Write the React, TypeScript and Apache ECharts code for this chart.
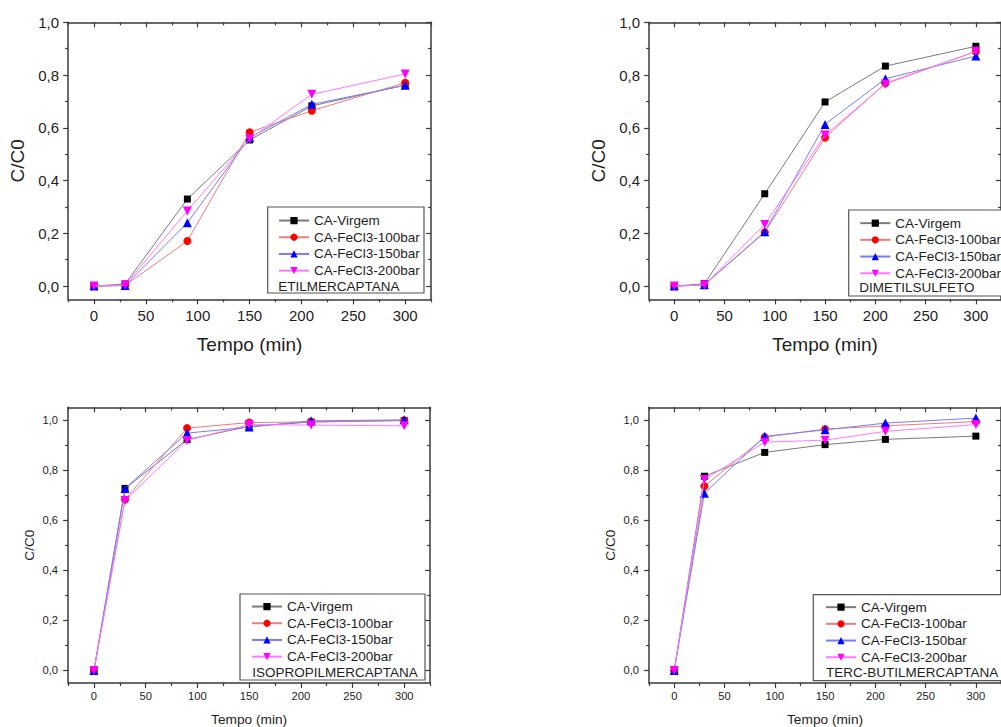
import React, { useEffect, useRef } from 'react';
import * as echarts from 'echarts';

// ---- data ----
const TIME = [0, 30, 90, 150, 210, 300];
const SERIES_NAMES = ['CA-Virgem', 'CA-FeCl3-100bar', 'CA-FeCl3-150bar', 'CA-FeCl3-200bar'];
const COMPOUNDS = ['ETILMERCAPTANA', 'DIMETILSULFETO', 'ISOPROPILMERCAPTANA', 'TERC-BUTILMERCAPTANA'];

const ETIL_VIRGEM = [0, 0.008, 0.33, 0.554, 0.683, 0.762];
const ETIL_100 = [0, 0.003, 0.171, 0.583, 0.665, 0.771];
const ETIL_150 = [0, 0.002, 0.24, 0.563, 0.689, 0.761];
const ETIL_200 = [0, 0.004, 0.285, 0.558, 0.727, 0.804];

const DMS_VIRGEM = [0, 0.009, 0.35, 0.698, 0.834, 0.909];
const DMS_100 = [0, 0.005, 0.204, 0.563, 0.769, 0.889];
const DMS_150 = [0, 0.005, 0.206, 0.613, 0.786, 0.872];
const DMS_200 = [0, 0.004, 0.234, 0.573, 0.766, 0.89];

const ISO_VIRGEM = [0, 0.726, 0.921, 0.974, 0.991, 0.997];
const ISO_100 = [0, 0.682, 0.967, 0.989, 0.992, 0.998];
const ISO_150 = [0, 0.726, 0.947, 0.971, 0.996, 1.0];
const ISO_200 = [0, 0.678, 0.918, 0.981, 0.979, 0.976];

const TERC_VIRGEM = [0, 0.775, 0.87, 0.901, 0.922, 0.935];
const TERC_100 = [0, 0.735, 0.931, 0.963, 0.976, 0.993];
const TERC_150 = [0, 0.707, 0.934, 0.96, 0.987, 1.007];
const TERC_200 = [0, 0.762, 0.911, 0.919, 0.954, 0.981];

const X_MAJOR = [0, 50, 100, 150, 200, 250, 300];
const X_MINOR = [-25, 25, 75, 125, 175, 225, 275, 325];
const Y_MAJOR = [0, 0.2, 0.4, 0.6, 0.8, 1.0];
const Y_MINOR = [0.1, 0.3, 0.5, 0.7, 0.9];

const X_TITLE = 'Tempo (min)';
const Y_TITLE = 'C/C0';

// ---- styles ----
const FONT = '"Liberation Sans", Arial, Helvetica, sans-serif';
const AXIS_COLOR = '#3a3a3a';
const TEXT_COLOR = '#1e1e1e';
const SERIES_STYLE = [
  { line: '#7a7a7a', marker: '#000000', symbol: 'rect', size: 7 },
  { line: '#f27a7a', marker: '#ff0000', symbol: 'circle', size: 8 },
  { line: '#7a7aff', marker: '#0000ff', symbol: 'triangle', size: 9 },
  { line: '#ff7aff', marker: '#ff00ff', symbol: 'path://M0,0L10,0L5,8.66Z', size: 9 },
];

const PANEL_DATA = [
  [ETIL_VIRGEM, ETIL_100, ETIL_150, ETIL_200],
  [DMS_VIRGEM, DMS_100, DMS_150, DMS_200],
  [ISO_VIRGEM, ISO_100, ISO_150, ISO_200],
  [TERC_VIRGEM, TERC_100, TERC_150, TERC_200],
];

const PANEL_LAYOUT = [
  { left: 68.1, top: 22.3, width: 363, height: 277, yMax: 1.0, tick: 15, title: 19, xGap: 36, yGap: 41, xMargin: 9, yMargin: 9,
    legend: { left: 278, top: 212.2 }, box: { x: 267.7, y: 207, w: 156.3, h: 86 }, label: { x: 278.3, y: 286 } },
  { left: 649.1, top: 22.3, width: 363, height: 277, yMax: 1.0, tick: 15, title: 19, xGap: 36, yGap: 41, xMargin: 9, yMargin: 9,
    legend: { left: 859.3, top: 214.8 }, box: { x: 848.7, y: 210, w: 200, h: 86 }, label: { x: 859.3, y: 287.7 } },
  { left: 68.1, top: 407.3, width: 362, height: 277, yMax: 1.05, tick: 11.2, title: 13.7, xGap: 29, yGap: 32, xMargin: 7.5, yMargin: 10,
    legend: { left: 251, top: 598.2 }, box: { x: 240, y: 594, w: 185, h: 86 }, label: { x: 252.3, y: 672.3 } },
  { left: 649.1, top: 407.3, width: 362, height: 277, yMax: 1.05, tick: 11.2, title: 13.7, xGap: 29, yGap: 32, xMargin: 7.5, yMargin: 10,
    legend: { left: 825, top: 598.8 }, box: { x: 813.3, y: 594.7, w: 200, h: 86 }, label: { x: 826, y: 672 } },
];

const fmt = (v: number) => v.toFixed(1).replace('.', ',');

function buildOption() {
  const grid: any[] = [];
  const xAxis: any[] = [];
  const yAxis: any[] = [];
  const series: any[] = [];
  const legend: any[] = [];
  const graphic: any[] = [];

  PANEL_LAYOUT.forEach((p, gi) => {
    grid.push({ left: p.left, top: p.top, width: p.width, height: p.height, containLabel: false });
    const xBase = { type: 'value', gridIndex: gi, min: -25, max: 325, splitLine: { show: false } };
    const yBase = { type: 'value', gridIndex: gi, min: -0.05, max: p.yMax, splitLine: { show: false } };
    const line = { show: true, onZero: false, lineStyle: { color: AXIS_COLOR, width: 1.5 } };
    const noLine = { show: false, onZero: false };
    const xMainIdx = xAxis.length;
    xAxis.push({ ...xBase, position: 'bottom', axisLine: line,
      axisTick: { show: true, inside: false, length: 5, customValues: X_MAJOR, lineStyle: { color: AXIS_COLOR, width: 1.2 } },
      axisLabel: { show: true, customValues: X_MAJOR, margin: p.xMargin, fontSize: p.tick, fontFamily: FONT, color: TEXT_COLOR },
      name: X_TITLE, nameLocation: 'middle', nameGap: p.xGap, nameTextStyle: { fontSize: p.title, fontFamily: FONT, color: TEXT_COLOR } });
    xAxis.push({ ...xBase, position: 'bottom', axisLine: noLine,
      axisTick: { show: true, inside: false, length: 3, customValues: X_MINOR, lineStyle: { color: AXIS_COLOR, width: 1.2 } },
      axisLabel: { show: false } });
    xAxis.push({ ...xBase, position: 'top', axisLine: line,
      axisTick: { show: true, inside: true, length: 5, customValues: X_MAJOR, lineStyle: { color: AXIS_COLOR, width: 1.2 } },
      axisLabel: { show: false } });
    xAxis.push({ ...xBase, position: 'top', axisLine: noLine,
      axisTick: { show: true, inside: true, length: 3, customValues: X_MINOR, lineStyle: { color: AXIS_COLOR, width: 1.2 } },
      axisLabel: { show: false } });

    const yMainIdx = yAxis.length;
    yAxis.push({ ...yBase, position: 'left', axisLine: line,
      axisTick: { show: true, inside: false, length: 5, customValues: Y_MAJOR, lineStyle: { color: AXIS_COLOR, width: 1.2 } },
      axisLabel: { show: true, customValues: Y_MAJOR, formatter: fmt, margin: p.yMargin, fontSize: p.tick, fontFamily: FONT, color: TEXT_COLOR },
      name: Y_TITLE, nameLocation: 'middle', nameGap: p.yGap, nameTextStyle: { fontSize: p.title, fontFamily: FONT, color: TEXT_COLOR } });
    yAxis.push({ ...yBase, position: 'left', axisLine: noLine,
      axisTick: { show: true, inside: false, length: 3, customValues: Y_MINOR, lineStyle: { color: AXIS_COLOR, width: 1.2 } },
      axisLabel: { show: false } });
    yAxis.push({ ...yBase, position: 'right', axisLine: line,
      axisTick: { show: true, inside: true, length: 5, customValues: Y_MAJOR, lineStyle: { color: AXIS_COLOR, width: 1.2 } },
      axisLabel: { show: false } });
    yAxis.push({ ...yBase, position: 'right', axisLine: noLine,
      axisTick: { show: true, inside: true, length: 3, customValues: Y_MINOR, lineStyle: { color: AXIS_COLOR, width: 1.2 } },
      axisLabel: { show: false } });

    PANEL_DATA[gi].forEach((vals, si) => {
      const st = SERIES_STYLE[si];
      series.push({
        type: 'line', name: SERIES_NAMES[si], xAxisIndex: xMainIdx, yAxisIndex: yMainIdx,
        data: TIME.map((t, i) => [t, vals[i]]),
        symbol: st.symbol, symbolSize: st.size,
        lineStyle: { color: st.line, width: 1 },
        itemStyle: { color: st.marker },
        z: 3 + si,
      });
    });

    graphic.push({ type: 'rect', z: 10, shape: { x: p.box.x, y: p.box.y, width: p.box.w, height: p.box.h },
      style: { fill: '#ffffff', stroke: '#555555', lineWidth: 1.2 } });
    graphic.push({ type: 'text', z: 11, x: p.label.x, y: p.label.y,
      style: { text: COMPOUNDS[gi], fontSize: 13.5, fontFamily: FONT, fill: TEXT_COLOR, verticalAlign: 'middle', align: 'left' } });

    legend.push({
      data: SERIES_NAMES, orient: 'vertical', left: p.legend.left, top: p.legend.top,
      itemWidth: 30, itemHeight: 9, itemGap: 0, padding: 0, selectedMode: false, z: 20,
      textStyle: { fontSize: 13.5, fontFamily: FONT, color: TEXT_COLOR, lineHeight: 16.7 },
    });
  });

  return {
    animation: false,
    backgroundColor: '#ffffff',
    textStyle: { fontFamily: FONT },
    grid, xAxis, yAxis, series, legend, graphic,
  };
}

export default function App() {
  const ref = useRef<HTMLDivElement>(null);
  useEffect(() => {
    if (!ref.current) return;
    const chart = echarts.init(ref.current, null, { renderer: 'svg' });
    chart.setOption(buildOption());
    return () => chart.dispose();
  }, []);
  return <div ref={ref} style={{ position: 'absolute', left: 0, top: 0, width: 1001, height: 727 }} />;
}
